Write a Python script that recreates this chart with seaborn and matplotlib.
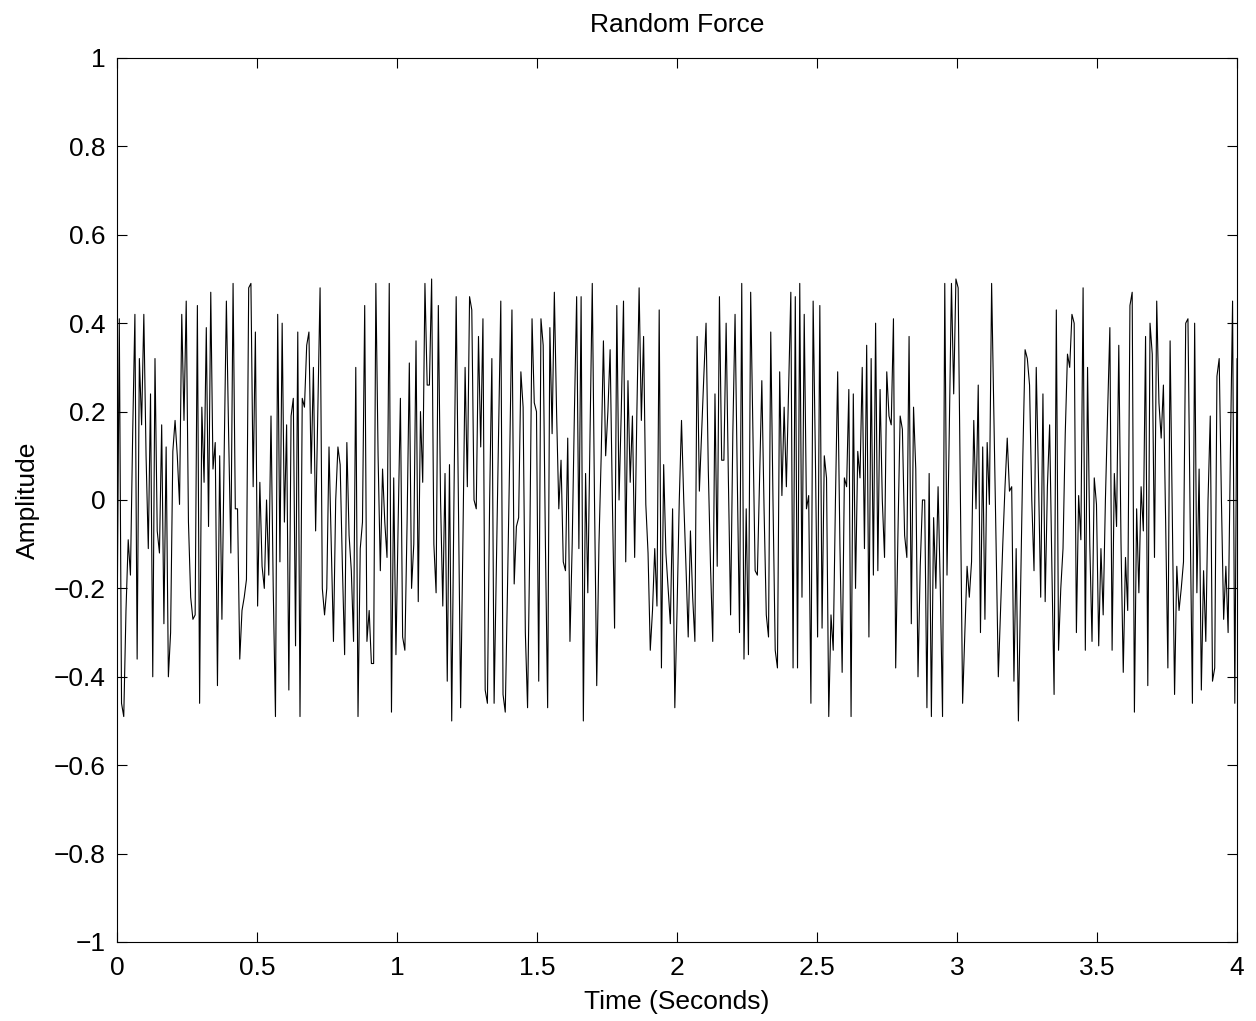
import numpy as np
import pandas as pd
import matplotlib
matplotlib.use("Agg")
import matplotlib.pyplot as plt
import seaborn as sns

# amplitude samples, left to right (0 .. 4 s)
force_a = [-0.30, 0.41, -0.46, -0.49, -0.25, -0.09, -0.17, 0.15, 0.42, -0.36, 0.32, 0.17, 0.42, 0.10,
           -0.11, 0.24, -0.40, 0.32, -0.07, -0.12, 0.17, -0.28, 0.12, -0.40, -0.30, 0.11, 0.18, 0.10,
           -0.01, 0.42, 0.18, 0.45, -0.05, -0.22, -0.27, -0.26, 0.44, -0.46, 0.21, 0.04, 0.39, -0.06, 0.47]
force_b = [0.07, 0.13, -0.42, 0.10, -0.27, 0.10, 0.45, 0.15, -0.12, 0.49, -0.02, -0.02, -0.36, -0.25,
           -0.22, -0.18, 0.48, 0.49, 0.03, 0.38, -0.24, 0.04, -0.15, -0.20, 0.0, -0.17, 0.19, -0.20,
           -0.49, 0.42, -0.14, 0.40, -0.05, 0.17, -0.43, 0.19, 0.23, -0.33, 0.38, -0.49, 0.23]
force_c = [0.21, 0.35, 0.38, 0.06, 0.30, -0.07, 0.20, 0.48, -0.20, -0.26, -0.20, 0.12, -0.10, -0.32,
           0.0, 0.12, 0.08, -0.15, -0.35, 0.13, -0.08, -0.16, -0.32, 0.30, -0.49, -0.11, -0.05, 0.44,
           -0.32, -0.25, -0.37, -0.37, 0.49, 0.10, -0.16, 0.07, -0.05, -0.13, 0.49, -0.48]
force_d = [0.05, -0.35, -0.05, 0.23, -0.31, -0.34, -0.05, 0.31, -0.20, -0.10, 0.36, -0.23, 0.20, 0.04,
           0.49, 0.26, 0.26, 0.50, -0.10, -0.21, 0.44, 0.0, -0.24, 0.06, -0.41, 0.08, -0.50, 0.0, 0.46,
           0.0, -0.47, -0.10, 0.30, 0.03, 0.46, 0.43, 0.0, -0.02, 0.37, 0.12]
force_e = [0.41, -0.43, -0.46, 0.0, 0.32, -0.46, -0.15, 0.15, 0.45, -0.44, -0.48, -0.20, 0.10, 0.43,
           -0.19, -0.06, -0.04, 0.29, 0.21, -0.30, -0.47, -0.10, 0.41, 0.22, 0.20, -0.41, 0.41, 0.35,
           -0.10, -0.47, 0.39, 0.15, 0.47, 0.20, -0.02, 0.09, -0.14, -0.16, 0.14, -0.32, -0.10, 0.20,
           0.46, -0.11]
force_f = [0.46, -0.50, 0.06, -0.21, 0.15, 0.49, 0.0, -0.42, -0.10, 0.10, 0.36, 0.10, 0.20, 0.34, 0.0,
           -0.29, 0.44, 0.0, 0.20, 0.45, -0.14, 0.27, 0.04, 0.19, -0.13, 0.20, 0.48, 0.18, 0.37, -0.01,
           -0.12, -0.34, -0.25, -0.11, -0.24, 0.43, -0.38, 0.08, -0.12, -0.20, -0.28]
force_g = [-0.02, -0.47, -0.25, 0.0, 0.18, 0.0, -0.15, -0.31, -0.07, -0.22, -0.32, 0.37, 0.02, 0.15,
           0.28, 0.40, 0.07, -0.15, -0.32, 0.24, -0.15, 0.46, 0.09, 0.09, 0.40, 0.05, -0.26, 0.15, 0.42,
           0.05, -0.30, 0.49, -0.36, -0.02, -0.35, 0.47, 0.15, -0.16, -0.17, 0.05, 0.27]
force_h = [-0.02, -0.26, -0.31, 0.38, 0.0, -0.34, -0.38, 0.29, 0.01, 0.21, 0.03, 0.25, 0.47, -0.38,
           0.46, -0.38, 0.49, -0.22, 0.42, -0.02, 0.01, -0.46, 0.45, 0.10, -0.31, 0.44, -0.29, 0.10,
           0.05, -0.49, -0.26, -0.34, 0.0, 0.29, -0.10, -0.39, 0.05, 0.03, 0.25, -0.49, 0.24, -0.20,
           0.11, 0.05]
force_i = [0.30, -0.11, 0.35, -0.31, 0.32, -0.17, 0.40, -0.16, 0.25, 0.0, -0.13, 0.29, 0.19, 0.17,
           0.41, -0.38, -0.08, 0.19, 0.16, -0.08, -0.13, 0.37, -0.28, 0.21, 0.07, -0.40, -0.15, 0.0,
           0.0, -0.47, 0.06, -0.49, -0.04, -0.20, 0.03, -0.20, -0.49, 0.49, -0.17, 0.15, 0.49]
force_j = [0.24, 0.50, 0.48, 0.0, -0.46, -0.30, -0.15, -0.22, -0.14, 0.18, -0.02, 0.26, -0.30, 0.12,
           -0.27, 0.13, -0.01, 0.49, 0.20, -0.10, -0.40, -0.25, -0.10, 0.03, 0.14, 0.02, 0.03, -0.41,
           -0.11, -0.50, -0.20, 0.10, 0.34, 0.32, 0.26, 0.0, -0.16, 0.30, 0.05, -0.22, 0.24]
force_k = [-0.23, 0.03, 0.17, -0.15, -0.44, 0.43, -0.34, -0.20, -0.11, 0.15, 0.33, 0.30, 0.42, 0.40,
           -0.30, 0.01, -0.09, 0.48, -0.34, 0.30, -0.10, -0.32, 0.05, -0.01, -0.33, -0.11, -0.26, 0.0,
           0.20, 0.39, -0.34, 0.06, -0.06, 0.35, -0.10, -0.39, -0.13, -0.25, 0.44, 0.47, -0.48]
force_l = [-0.02, -0.21, 0.03, -0.07, 0.37, -0.42, 0.40, 0.33, -0.13, 0.45, 0.22, 0.14, 0.26, -0.05,
           -0.38, 0.36, -0.05, -0.44, -0.15, -0.25, -0.20, -0.14, 0.40, 0.41, -0.05, -0.46, 0.40, -0.21,
           0.07, -0.43, -0.16, -0.32, 0.0, 0.19, -0.41, -0.38, 0.28, 0.32, 0.0, -0.27, -0.15, -0.30,
           0.10, 0.45, -0.46, 0.32]

t_end = 4.0
x_ticks = [0, 0.5, 1, 1.5, 2, 2.5, 3, 3.5, 4]
x_labels = ["0", "0.5", "1", "1.5", "2", "2.5", "3", "3.5", "4"]
y_ticks = [-1, -0.8, -0.6, -0.4, -0.2, 0, 0.2, 0.4, 0.6, 0.8, 1]
y_labels = ["\u22121", "\u22120.8", "\u22120.6", "\u22120.4", "\u22120.2", "0",
            "0.2", "0.4", "0.6", "0.8", "1"]

amp = np.array(force_a + force_b + force_c + force_d + force_e + force_f +
               force_g + force_h + force_i + force_j + force_k + force_l)
df = pd.DataFrame({"time": np.linspace(0, t_end, len(amp)), "amp": amp})

sns.set_style("ticks")
plt.rcParams["font.family"] = ["Liberation Sans", "DejaVu Sans"]
plt.rcParams["text.color"] = "black"
plt.rcParams["axes.labelcolor"] = "black"
plt.rcParams["xtick.color"] = "black"
plt.rcParams["ytick.color"] = "black"

fig = plt.figure(figsize=(12.56, 10.21), dpi=100)
ax = fig.add_axes([0.0932, 0.0774, 0.8917, 0.8658])
sns.lineplot(data=df, x="time", y="amp", ax=ax, color="black", linewidth=0.8,
             estimator=None, sort=False)

ax.set_xlim(0, t_end)
ax.set_ylim(-1, 1)
ax.set_xticks(x_ticks)
ax.set_xticklabels(x_labels)
ax.set_yticks(y_ticks)
ax.set_yticklabels(y_labels)
ax.tick_params(direction="in", length=7, width=0.8, labelsize=19,
               top=True, right=True)
ax.tick_params(axis="x", pad=10)
ax.tick_params(axis="y", pad=8)
for s in ax.spines.values():
    s.set_linewidth(0.8)
    s.set_color("black")

ax.set_title("Random Force", fontsize=19, pad=19, color="black")
ax.set_xlabel("Time (Seconds)", fontsize=19, labelpad=7)
ax.set_ylabel("Amplitude", fontsize=19, labelpad=10)

fig.savefig("out.png", dpi=100)
